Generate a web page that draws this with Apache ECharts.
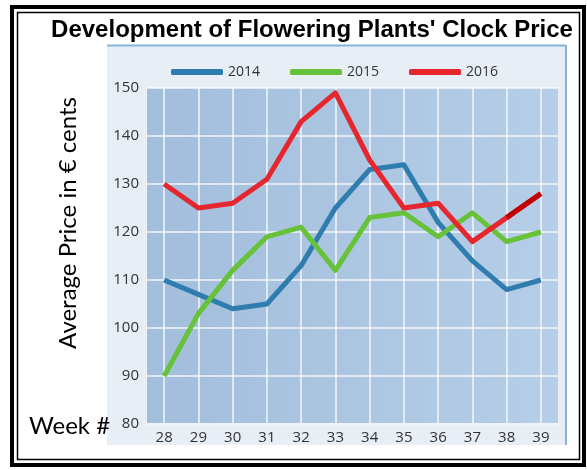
<!DOCTYPE html>
<html>
<head>
<meta charset="utf-8">
<script src="https://cdn.jsdelivr.net/npm/echarts@6/dist/echarts.min.js"></script>
<style>
html,body{margin:0;padding:0;background:#fff;}
#chart{width:587px;height:470px;}
</style>
</head>
<body>
<div id="chart"></div>
<script>
// ---- data ----
const weeks = ['28','29','30','31','32','33','34','35','36','37','38','39'];
const yTicks = [80, 90, 100, 110, 120, 130, 140, 150];
const price2014 = [110, 107, 104, 105, 113, 125, 133, 134, 122, 114, 108, 110];
const price2015 = [90, 103, 112, 119, 121, 112, 123, 124, 119, 124, 118, 120];
const price2016 = [130, 125, 126, 131, 143, 149, 135, 125, 126, 118, 123, 128];
const highlightFrom2016 = 10; // last segment of 2016 drawn in dark red

const chart = echarts.init(document.getElementById('chart'), null, {renderer: 'canvas'});

const lastSeg2016 = price2016.map((v, i) => (i >= highlightFrom2016 ? v : null));

const option = {
  animation: false,
  backgroundColor: '#ffffff',
  title: {
    text: "Development of Flowering Plants' Clock Price",
    left: 307,
    top: 13,
    textAlign: 'center',
    textStyle: {
      fontFamily: 'Liberation Sans, Arial, sans-serif',
      fontWeight: 'bold',
      fontSize: 24,
      color: '#000'
    }
  },
  graphic: [
    { type: 'rect', z: -10, shape: {x: 107, y: 45, width: 459, height: 400},
      style: {fill: '#e8eef5'} },
    { type: 'line', z: -9, shape: {x1: 107, y1: 45.5, x2: 566, y2: 45.5},
      style: {stroke: '#86b4d8', lineWidth: 2} },
    { type: 'line', z: -9, shape: {x1: 566, y1: 45, x2: 566, y2: 445},
      style: {stroke: '#86b4d8', lineWidth: 2} },
    { type: 'rect', z: 10, shape: {x: 12, y: 7, width: 572, height: 458},
      style: {fill: 'none', stroke: '#000', lineWidth: 4} },
    { type: 'rect', z: 10, shape: {x: 17.5, y: 12.5, width: 562, height: 447},
      style: {fill: 'none', stroke: '#000', lineWidth: 1.5} },
    { type: 'text', z: 10, left: 29, top: 414,
      style: {text: 'Week #', fontFamily: 'Lato, sans-serif', fontSize: 24, fill: '#000'} },
    { type: 'text', z: 10, x: 68, y: 223, rotation: Math.PI / 2,
      style: {text: 'Average Price in € cents', fontFamily: 'Lato, sans-serif', fontSize: 24,
              fill: '#000', align: 'center', verticalAlign: 'middle'} }
  ],
  legend: {
    left: 166,
    top: 60,
    icon: 'roundRect',
    itemWidth: 52,
    itemHeight: 6,
    itemGap: 30,
    data: ['2014', '2015', '2016'],
    textStyle: {fontFamily: 'Open Sans, sans-serif', fontSize: 14, color: '#333'}
  },
  grid: {
    left: 147,
    top: 88,
    width: 411,
    height: 336,
    show: true,
    borderWidth: 0,
    backgroundColor: {
      type: 'linear', x: 0, y: 0, x2: 1, y2: 0,
      colorStops: [
        {offset: 0, color: '#a2bedc'},
        {offset: 1, color: '#b6cee7'}
      ]
    }
  },
  xAxis: {
    type: 'category',
    data: weeks,
    boundaryGap: true,
    axisLine: {show: true, lineStyle: {color: '#eef3f8', width: 3}},
    axisTick: {show: false},
    axisLabel: {fontFamily: 'Open Sans, sans-serif', fontSize: 15, color: '#333', margin: 6},
    splitLine: {show: true, alignWithLabel: true, lineStyle: {color: 'rgba(255,255,255,0.85)', width: 1.5}}
  },
  yAxis: {
    type: 'value',
    min: yTicks[0],
    max: yTicks[yTicks.length - 1],
    interval: yTicks[1] - yTicks[0],
    axisLine: {show: false},
    axisTick: {show: false},
    axisLabel: {fontFamily: 'Open Sans, sans-serif', fontSize: 15, color: '#333', margin: 8},
    splitLine: {show: true, lineStyle: {color: 'rgba(255,255,255,0.85)', width: 1.5}}
  },
  series: [
    { name: '2014', type: 'line', data: price2014, showSymbol: false, symbol: 'none',
      color: '#2f7cae', lineStyle: {width: 5, color: '#2f7cae', join: 'round'} },
    { name: '2015', type: 'line', data: price2015, showSymbol: false, symbol: 'none',
      color: '#67c23a', lineStyle: {width: 5, color: '#67c23a', join: 'round'} },
    { name: '2016', type: 'line', data: price2016, showSymbol: false, symbol: 'none',
      color: '#e5262f', lineStyle: {width: 5, color: '#e5262f', join: 'round'} },
    { name: '2016', type: 'line', data: lastSeg2016, showSymbol: false, symbol: 'none',
      color: '#c00000', lineStyle: {width: 5, color: '#c00000'} }
  ]
};
chart.setOption(option);
</script>
</body>
</html>
